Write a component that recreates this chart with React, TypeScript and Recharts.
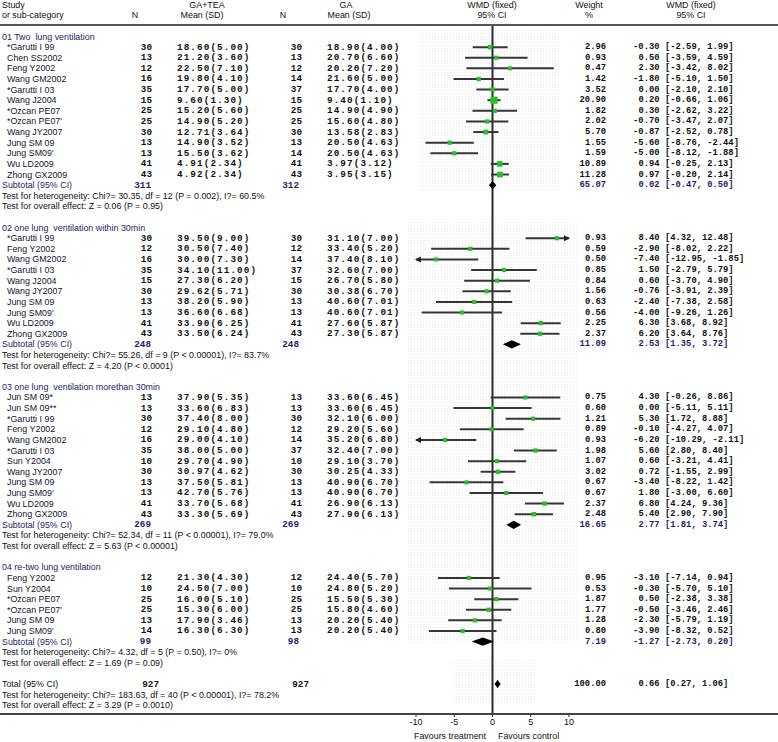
import React from 'react';
import { ScatterChart, Scatter, XAxis, YAxis, ReferenceLine, ReferenceArea } from 'recharts';

// ---------- data ----------
const sectionTitles = [
  '01 Two  lung ventilation',
  '02 one lung  ventilation within 30min',
  '03 one lung  ventilation morethan 30min',
  '04 re-two lung ventilation',
];

const names1 = ['*Garutti I 99', 'Chen SS2002', 'Feng Y2002', 'Wang GM2002', '*Garutti I 03', 'Wang J2004', '*Ozcan PE07', "*Ozcan PE07'", 'Wang JY2007', 'Jung SM 09', "Jung SM09'", 'Wu LD2009', 'Zhong GX2009'];
const n1a = [30, 13, 12, 16, 35, 15, 25, 25, 30, 13, 13, 41, 43];
const m1a = [18.6, 21.2, 22.5, 19.8, 17.7, 9.6, 15.2, 14.9, 12.71, 14.9, 15.5, 4.91, 4.92];
const sd1a = [5.0, 3.6, 7.1, 4.1, 5.0, 1.3, 5.6, 5.2, 3.64, 3.52, 3.62, 2.34, 2.34];
const n1b = [30, 13, 12, 14, 37, 15, 25, 25, 30, 13, 14, 41, 43];
const m1b = [18.9, 20.7, 20.2, 21.6, 17.7, 9.4, 14.9, 15.6, 13.58, 20.5, 20.5, 3.97, 3.95];
const sd1b = [4.0, 6.6, 7.2, 5.0, 4.0, 1.1, 4.9, 4.8, 2.83, 4.63, 4.63, 3.12, 3.15];
const w1 = [2.96, 0.93, 0.47, 1.42, 3.52, 20.9, 1.82, 2.02, 5.7, 1.55, 1.59, 10.89, 11.28];
const est1 = [-0.3, 0.5, 2.3, -1.8, 0.0, 0.2, 0.3, -0.7, -0.87, -5.6, -5.0, 0.94, 0.97];
const lo1 = [-2.59, -3.59, -3.42, -5.1, -2.1, -0.66, -2.62, -3.47, -2.52, -8.76, -8.12, -0.25, -0.2];
const hi1 = [1.99, 4.59, 8.02, 1.5, 2.1, 1.06, 3.22, 2.07, 0.78, -2.44, -1.88, 2.13, 2.14];

const names2 = ['*Garutti I 99', 'Feng Y2002', 'Wang GM2002', '*Garutti I 03', 'Wang J2004', 'Wang JY2007', 'Jung SM 09', "Jung SM09'", 'Wu LD2009', 'Zhong GX2009'];
const n2a = [30, 12, 16, 35, 15, 30, 13, 13, 41, 43];
const m2a = [39.5, 30.5, 30.0, 34.1, 27.3, 29.62, 38.2, 36.6, 33.9, 33.5];
const sd2a = [9.0, 7.4, 7.3, 11.0, 6.2, 5.71, 5.9, 6.68, 6.25, 6.24];
const n2b = [30, 12, 14, 37, 15, 30, 13, 13, 41, 43];
const m2b = [31.1, 33.4, 37.4, 32.6, 26.7, 30.38, 40.6, 40.6, 27.6, 27.3];
const sd2b = [7.0, 5.2, 8.1, 7.0, 5.8, 6.7, 7.01, 7.01, 5.87, 5.87];
const w2 = [0.93, 0.59, 0.5, 0.85, 0.84, 1.56, 0.63, 0.56, 2.25, 2.37];
const est2 = [8.4, -2.9, -7.4, 1.5, 0.6, -0.76, -2.4, -4.0, 6.3, 6.2];
const lo2 = [4.32, -8.02, -12.95, -2.79, -3.7, -3.91, -7.38, -9.26, 3.68, 3.64];
const hi2 = [12.48, 2.22, -1.85, 5.79, 4.9, 2.39, 2.58, 1.26, 8.92, 8.76];

const names3 = ['Jun SM 09*', 'Jun SM 09**', '*Garutti I 99', 'Feng Y2002', 'Wang GM2002', '*Garutti I 03', 'Sun Y2004', 'Wang JY2007', 'Jung SM 09', "Jung SM09'", 'Wu LD2009', 'Zhong GX2009'];
const n3a = [13, 13, 30, 12, 16, 35, 10, 30, 13, 13, 41, 43];
const m3a = [37.9, 33.6, 37.4, 29.1, 29.0, 38.0, 29.7, 30.97, 37.5, 42.7, 33.7, 33.3];
const sd3a = [5.35, 6.83, 8.0, 4.8, 4.1, 5.0, 4.9, 4.62, 5.81, 5.76, 5.68, 5.69];
const n3b = [13, 13, 30, 12, 14, 37, 10, 30, 13, 13, 41, 43];
const m3b = [33.6, 33.6, 32.1, 29.2, 35.2, 32.4, 29.1, 30.25, 40.9, 40.9, 26.9, 27.9];
const sd3b = [6.45, 6.45, 6.0, 5.6, 6.8, 7.0, 3.7, 4.33, 6.7, 6.7, 6.13, 6.13];
const w3 = [0.75, 0.6, 1.21, 0.89, 0.93, 1.98, 1.07, 3.02, 0.67, 0.67, 2.37, 2.48];
const est3 = [4.3, 0.0, 5.3, -0.1, -6.2, 5.6, 0.6, 0.72, -3.4, 1.8, 6.8, 5.4];
const lo3 = [-0.26, -5.11, 1.72, -4.27, -10.29, 2.8, -3.21, -1.55, -8.22, -3.0, 4.24, 2.9];
const hi3 = [8.86, 5.11, 8.88, 4.07, -2.11, 8.4, 4.41, 2.99, 1.42, 6.6, 9.36, 7.9];

const names4 = ['Feng Y2002', 'Sun Y2004', '*Ozcan PE07', "*Ozcan PE07'", 'Jung SM 09', "Jung SM09'"];
const n4a = [12, 10, 25, 25, 13, 14];
const m4a = [21.3, 24.5, 16.0, 15.3, 17.9, 16.3];
const sd4a = [4.3, 7.0, 5.1, 6.0, 3.46, 6.3];
const n4b = [12, 10, 25, 25, 13, 13];
const m4b = [24.4, 24.8, 15.5, 15.8, 20.2, 20.2];
const sd4b = [5.7, 5.2, 5.3, 4.6, 5.4, 5.4];
const w4 = [0.95, 0.53, 1.87, 1.77, 1.28, 0.8];
const est4 = [-3.1, -0.3, 0.5, -0.5, -2.3, -3.9];
const lo4 = [-7.14, -5.7, -2.38, -3.46, -5.79, -8.32];
const hi4 = [0.94, 5.1, 3.38, 2.46, 1.19, 0.52];

const subN1 = [311, 248, 269, 99];
const subN2 = [312, 248, 269, 98];
const subW = [65.07, 11.09, 16.65, 7.19];
const subEst = [0.02, 2.53, 2.77, -1.27];
const subLo = [-0.47, 1.35, 1.81, -2.73];
const subHi = [0.5, 3.72, 3.74, 0.2];
const hetTexts = [
  'Test for heterogeneity: Chi?= 30.35, df = 12 (P = 0.002), I?= 60.5%',
  'Test for heterogeneity: Chi?= 55.26, df = 9 (P < 0.00001), I?= 83.7%',
  'Test for heterogeneity: Chi?= 52.34, df = 11 (P < 0.00001), I?= 79.0%',
  'Test for heterogeneity: Chi?= 4.32, df = 5 (P = 0.50), I?= 0%',
];
const zTexts = [
  'Test for overall effect: Z = 0.06 (P = 0.95)',
  'Test for overall effect: Z = 4.20 (P < 0.0001)',
  'Test for overall effect: Z = 5.63 (P < 0.00001)',
  'Test for overall effect: Z = 1.69 (P = 0.09)',
];

const totalN1 = 927;
const totalN2 = 927;
const totalW = 100.0;
const totalEst = 0.66;
const totalLo = 0.27;
const totalHi = 1.06;
const totalHet = 'Test for heterogeneity: Chi?= 183.63, df = 40 (P < 0.00001), I?= 78.2%';
const totalZ = 'Test for overall effect: Z = 3.29 (P = 0.0010)';

const xTicks = [-10, -5, 0, 5, 10];
const xDomain: [number, number] = [-10, 10];

// ---------- tables built from the arrays ----------
const sections = [
  { names: names1, na: n1a, ma: m1a, sa: sd1a, nb: n1b, mb: m1b, sb: sd1b, w: w1, est: est1, lo: lo1, hi: hi1 },
  { names: names2, na: n2a, ma: m2a, sa: sd2a, nb: n2b, mb: m2b, sb: sd2b, w: w2, est: est2, lo: lo2, hi: hi2 },
  { names: names3, na: n3a, ma: m3a, sa: sd3a, nb: n3b, mb: m3b, sb: sd3b, w: w3, est: est3, lo: lo3, hi: hi3 },
  { names: names4, na: n4a, ma: m4a, sa: sd4a, nb: n4b, mb: m4b, sb: sd4b, w: w4, est: est4, lo: lo4, hi: hi4 },
];

const f2 = (v: number) => v.toFixed(2);
const ciStr = (lo: number, hi: number) => `[${f2(lo)}, ${f2(hi)}]`;

const textRows: any[] = [];
const studyPts: any[] = [];
const ciEnds: any[] = [];
const arrows: any[] = [];
const diamonds: any[] = [];

textRows.push({ row: -3, x: 0, kind: 'head1' });
textRows.push({ row: -2, x: 0, kind: 'head2' });
textRows.push({ row: -1.08, x: 0, kind: 'ruleTop' });

let r = 0;
sections.forEach((s, si) => {
  textRows.push({ row: r, x: 0, kind: 'section', label: sectionTitles[si] });
  s.names.forEach((nm, i) => {
    const row = r + 1 + i;
    textRows.push({
      row, x: 0, kind: 'study', label: nm,
      n1: s.na[i], n2: s.nb[i],
      m1: `${f2(s.ma[i])}(${f2(s.sa[i])})`, m2: `${f2(s.mb[i])}(${f2(s.sb[i])})`,
      wt: f2(s.w[i]), est: f2(s.est[i]), ci: ciStr(s.lo[i], s.hi[i]),
    });
    studyPts.push({ row, x: s.est[i], w: s.w[i] });
    ciEnds.push({ row, x: Math.max(s.lo[i], xDomain[0]) });
    ciEnds.push({ row, x: Math.min(s.hi[i], xDomain[1]) });
    if (s.lo[i] < xDomain[0]) arrows.push({ row, x: xDomain[0], dir: -1 });
    if (s.hi[i] > xDomain[1]) arrows.push({ row, x: xDomain[1], dir: 1 });
  });
  const sr = r + s.names.length + 1;
  textRows.push({ row: sr, x: 0, kind: 'subtotal', label: 'Subtotal (95% CI)', n1: subN1[si], n2: subN2[si], wt: f2(subW[si]), est: f2(subEst[si]), ci: ciStr(subLo[si], subHi[si]) });
  diamonds.push({ row: sr, x: subLo[si] }, { row: sr, x: subEst[si] }, { row: sr, x: subHi[si] });
  textRows.push({ row: sr + 1, x: 0, kind: 'test', label: hetTexts[si] });
  textRows.push({ row: sr + 2, x: 0, kind: 'test', label: zTexts[si] });
  r = sr + 4;
});
const tr = r;
textRows.push({ row: tr, x: 0, kind: 'total', label: 'Total (95% CI)', n1: totalN1, n2: totalN2, wt: f2(totalW), est: f2(totalEst), ci: ciStr(totalLo, totalHi) });
diamonds.push({ row: tr, x: totalLo }, { row: tr, x: totalEst }, { row: tr, x: totalHi });
textRows.push({ row: tr + 1, x: 0, kind: 'test', label: totalHet });
textRows.push({ row: tr + 2, x: 0, kind: 'test', label: totalZ });

const ROW_MIN = -3.44;
const ROW_MAX = 63.82;
textRows.push({ row: ROW_MAX, x: 0, kind: 'ruleBottom' });

// ---------- styles / layout ----------
const W = 778;
const H = 742;
const SANS = "'Liberation Sans', Arial, sans-serif";
const MONO = "'Liberation Mono', 'Courier New', monospace";
const NAVY = '#1d1d6a';
const DARK = '#141432';
const SANS_SIZE = 8.9;
const MONO_L = 9.3;
const MONO_R = 8.8;
const COL = { label: 2, name: 7, n1: 152, m1: 177, n2: 302, m2: 327, wt: 606, est: 659.5, ci: 665 };

const T = (props: any) => {
  const { x, y, anchor = 'start', font = SANS, size = SANS_SIZE, color = '#111', weight = 'normal', spacing = 0, children } = props;
  return (
    <text x={x} y={y} textAnchor={anchor} dominantBaseline="central" fontFamily={font} fontSize={size}
      fill={color} fontWeight={weight} letterSpacing={spacing} style={{ whiteSpace: 'pre' }}>
      {children}
    </text>
  );
};

const TextRowShape = (p: any) => {
  const d = p.payload || {};
  const y = p.cy;
  switch (d.kind) {
    case 'head1':
      return (
        <g>
          <defs>
            <pattern id="dotpat" width="3" height="3" patternUnits="userSpaceOnUse">
              <rect x="0" y="0" width="1" height="1" fill="#e9e9e9" />
            </pattern>
          </defs>
          <T x={2} y={y}>Study</T>
          <T x={207} y={y} anchor="middle">GA+TEA</T>
          <T x={346} y={y} anchor="middle">GA</T>
          <T x={492} y={y} anchor="middle">WMD (fixed)</T>
          <T x={589} y={y} anchor="middle">Weight</T>
          <T x={691} y={y} anchor="middle">WMD (fixed)</T>
        </g>
      );
    case 'head2':
      return (
        <g>
          <T x={2} y={y}>or sub-category</T>
          <T x={135} y={y} anchor="middle">N</T>
          <T x={202} y={y} anchor="middle">Mean (SD)</T>
          <T x={283} y={y} anchor="middle">N</T>
          <T x={349} y={y} anchor="middle">Mean (SD)</T>
          <T x={492} y={y} anchor="middle">95% CI</T>
          <T x={589} y={y} anchor="middle">%</T>
          <T x={691} y={y} anchor="middle">95% CI</T>
        </g>
      );
    case 'ruleTop':
      return <line x1={0} x2={W} y1={y} y2={y} stroke="#555" strokeWidth={2} />;
    case 'ruleBottom':
      return (
        <g>
          <line x1={0} x2={W} y1={y} y2={y} stroke="#444" strokeWidth={2} />
          <T x={486} y={y + 22} anchor="end">Favours treatment</T>
          <T x={498} y={y + 22}>Favours control</T>
        </g>
      );
    case 'section':
      return <T x={COL.label} y={y} color={NAVY}>{d.label}</T>;
    case 'test':
      return <T x={COL.label} y={y} color="#111">{d.label}</T>;
    case 'study':
      return (
        <g>
          <T x={COL.name} y={y} color={DARK}>{d.label}</T>
          <T x={COL.n1} y={y} anchor="end" font={MONO} size={MONO_L} weight="bold">{d.n1}</T>
          <T x={COL.m1} y={y} font={MONO} size={MONO_L} weight="bold" spacing={1.1}>{d.m1}</T>
          <T x={COL.n2} y={y} anchor="end" font={MONO} size={MONO_L} weight="bold">{d.n2}</T>
          <T x={COL.m2} y={y} font={MONO} size={MONO_L} weight="bold" spacing={1.1}>{d.m2}</T>
          <T x={COL.wt} y={y} anchor="end" font={MONO} size={MONO_R} weight="bold">{d.wt}</T>
          <T x={COL.est} y={y} anchor="end" font={MONO} size={MONO_R} weight="bold">{d.est}</T>
          <T x={COL.ci} y={y} font={MONO} size={MONO_R} weight="bold">{d.ci}</T>
        </g>
      );
    case 'subtotal':
    case 'total': {
      const isTot = d.kind === 'total';
      const c = isTot ? '#111' : NAVY;
      return (
        <g>
          <T x={COL.label} y={y} color={c}>{d.label}</T>
          <T x={isTot ? 159 : 151} y={y} anchor="end" font={MONO} size={MONO_L} weight="bold" color={c}>{d.n1}</T>
          <T x={isTot ? 309 : 299} y={y} anchor="end" font={MONO} size={MONO_L} weight="bold" color={c}>{d.n2}</T>
          <T x={COL.wt} y={y} anchor="end" font={MONO} size={MONO_R} weight="bold" color={c}>{d.wt}</T>
          <T x={COL.est} y={y} anchor="end" font={MONO} size={MONO_R} weight="bold" color={c}>{d.est}</T>
          <T x={COL.ci} y={y} font={MONO} size={MONO_R} weight="bold" color={c}>{d.ci}</T>
        </g>
      );
    }
    default:
      return <g />;
  }
};

const Nothing = () => <g />;

const SquareShape = (p: any) => {
  const s = 4 + 0.15 * (p.payload?.w ?? 0);
  return <rect x={p.cx - s / 2} y={p.cy - s / 2} width={s} height={s} fill="#22c322" />;
};

const ArrowShape = (p: any) => {
  const dir = p.payload?.dir ?? 1;
  const tip = p.cx + dir * 1;
  const base = p.cx - dir * 5;
  return <polygon points={`${tip},${p.cy} ${base},${p.cy - 3} ${base},${p.cy + 3}`} fill="#222" />;
};

const ciLineRenderer = (props: any) => {
  const pts = props.points || [];
  const out: any[] = [];
  for (let i = 0; i + 1 < pts.length; i += 2) {
    out.push(<line key={i} x1={pts[i].x} y1={pts[i].y} x2={pts[i + 1].x} y2={pts[i + 1].y} stroke="#363636" strokeWidth={2} />);
  }
  return <g>{out}</g>;
};

const diamondRenderer = (props: any) => {
  const pts = props.points || [];
  const out: any[] = [];
  for (let i = 0; i + 2 < pts.length; i += 3) {
    const a = pts[i], b = pts[i + 1], c = pts[i + 2];
    out.push(<polygon key={i} points={`${a.x},${a.y} ${b.x},${b.y - 4.2} ${c.x},${c.y} ${b.x},${b.y + 4.2}`} fill="#000" />);
  }
  return <g>{out}</g>;
};

export default function App() {
  return (
    <div style={{ width: W, height: H, background: '#fff' }}>
      <style>{'body{margin:0;background:#fff}'}</style>
      <ScatterChart width={W} height={H} margin={{ top: 0, right: 209, bottom: 0, left: 416 }}>
        <XAxis
          type="number"
          dataKey="x"
          domain={xDomain}
          ticks={xTicks}
          height={28}
          axisLine={false}
          tickLine={{ stroke: '#222' }}
          tickSize={3}
          tick={{ fontSize: 9, fontFamily: SANS, fill: '#111' }}
          interval={0}
        />
        <YAxis type="number" dataKey="row" domain={[ROW_MIN, ROW_MAX]} reversed hide />
        <ReferenceArea x1={-9.74} x2={8.82} y1={-0.6} y2={14.6} fill="url(#dotpat)" fillOpacity={1} stroke="none" ifOverflow="visible" />
        <ReferenceArea x1={-11.18} x2={11.04} y1={17.1} y2={57.1} fill="url(#dotpat)" fillOpacity={1} stroke="none" ifOverflow="visible" />
        <ReferenceArea x1={-5.16} x2={5.56} y1={58.7} y2={62.9} fill="url(#dotpat)" fillOpacity={1} stroke="none" ifOverflow="visible" />
        <ReferenceLine segment={[{ x: 0, y: -1.08 }, { x: 0, y: ROW_MAX }]} stroke="#2a2a2a" strokeWidth={2} ifOverflow="visible" />
        <Scatter data={ciEnds} shape={Nothing} line={ciLineRenderer} isAnimationActive={false} />
        <Scatter data={studyPts} shape={SquareShape} isAnimationActive={false} />
        <Scatter data={arrows} shape={ArrowShape} isAnimationActive={false} />
        <Scatter data={diamonds} shape={Nothing} line={diamondRenderer} isAnimationActive={false} />
        <Scatter data={textRows} shape={TextRowShape} isAnimationActive={false} />
      </ScatterChart>
    </div>
  );
}
